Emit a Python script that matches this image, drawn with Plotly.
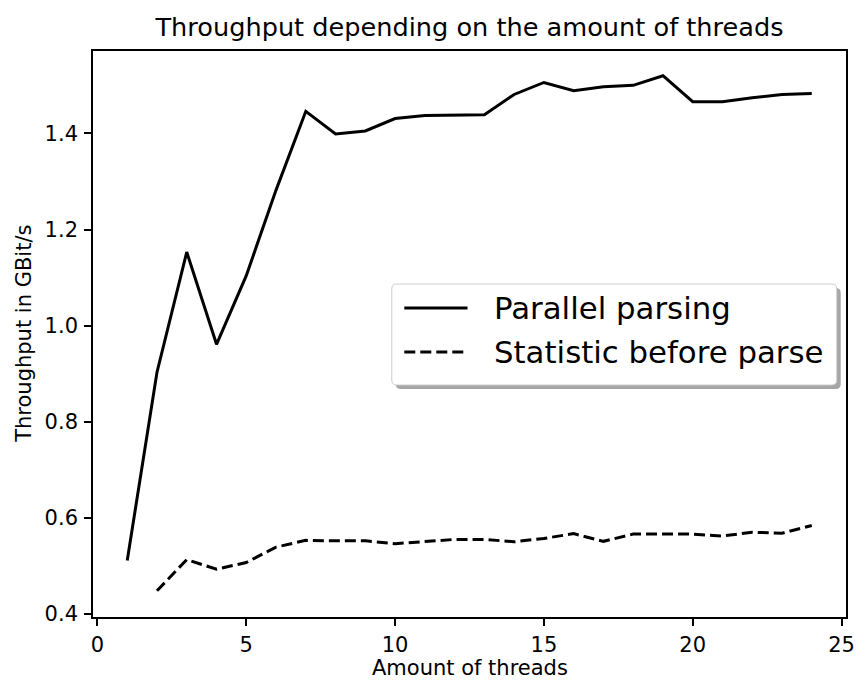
import plotly.graph_objects as go

# ---- data ----
threads_parallel = list(range(1, 25))
parallel_parsing = [0.511, 0.903, 1.153, 0.961, 1.104, 1.282, 1.446, 1.399, 1.405, 1.431,
                    1.437, 1.438, 1.439, 1.481, 1.506, 1.489, 1.497, 1.500, 1.520, 1.466,
                    1.466, 1.474, 1.481, 1.483]
threads_stat = list(range(2, 25))
statistic_before_parse = [0.448, 0.513, 0.493, 0.507, 0.539, 0.553, 0.552, 0.552, 0.546,
                          0.551, 0.555, 0.555, 0.550, 0.557, 0.567, 0.551, 0.566, 0.566,
                          0.566, 0.562, 0.570, 0.568, 0.584]
series_names = ["Parallel parsing", "Statistic before parse"]
x_ticks = [0, 5, 10, 15, 20, 25]
y_ticks = [0.4, 0.6, 0.8, 1.0, 1.2, 1.4]
title_text = "Throughput depending on the amount of threads"
x_title = "Amount of threads"
y_title = "Throughput in GBit/s"

W, H = 864, 682
ML, MR, MT, MB = 93, 9, 51, 65
PW, PH = W - ML - MR, H - MT - MB
FONT = "DejaVu Sans"
TICK_FS, LABEL_FS, TITLE_FS, LEGEND_FS = 21, 21, 25.6, 30.8


def px(x):
    return (x - ML) / PW


def py(y):
    return (H - MB - y) / PH


fig = go.Figure()
fig.add_trace(go.Scatter(x=threads_parallel, y=parallel_parsing, mode="lines",
                         name=series_names[0], line=dict(color="black", width=3)))
fig.add_trace(go.Scatter(x=threads_stat, y=statistic_before_parse, mode="lines",
                         name=series_names[1],
                         line=dict(color="black", width=3, dash="11px,5px")))

axis_common = dict(showgrid=False, zeroline=False, showline=True, linecolor="black",
                   linewidth=1.6, mirror=True, ticks="outside", ticklen=7, tickwidth=1.6,
                   tickcolor="black", tickfont=dict(family=FONT, size=TICK_FS, color="black"))

fig.update_xaxes(range=[-0.15, 25.15], tickvals=x_ticks,
                 ticktext=[str(v) for v in x_ticks], ticklabelstandoff=1, **axis_common)
fig.update_yaxes(range=[0.3935, 1.5715], tickvals=y_ticks,
                 ticktext=[f"{v:.1f}" for v in y_ticks], ticklabelstandoff=2, **axis_common)

# legend (drawn manually to mimic matplotlib's fancy box with shadow)
bx0, bx1, by0, by1 = 398, 843, 284, 385
cx, cy = (bx0 + bx1) / 2, (by0 + by1) / 2
hw, hh, r = (bx1 - bx0) / 2, (by1 - by0) / 2, 5


def rounded(hw, hh, r):
    return (f"M{-hw + r},{-hh} L{hw - r},{-hh} Q{hw},{-hh} {hw},{-hh + r} "
            f"L{hw},{hh - r} Q{hw},{hh} {hw - r},{hh} L{-hw + r},{hh} "
            f"Q{-hw},{hh} {-hw},{hh - r} L{-hw},{-hh + r} Q{-hw},{-hh} {-hw + r},{-hh} Z")


shapes = [
    dict(type="path", xref="paper", yref="paper", xsizemode="pixel", ysizemode="pixel",
         xanchor=px(cx + 4), yanchor=py(cy + 4), path=rounded(hw, hh, r),
         fillcolor="rgba(0,0,0,0.35)", line=dict(width=0), layer="above"),
    dict(type="path", xref="paper", yref="paper", xsizemode="pixel", ysizemode="pixel",
         xanchor=px(cx), yanchor=py(cy), path=rounded(hw, hh, r),
         fillcolor="white", line=dict(color="#cccccc", width=1), layer="above"),
    dict(type="line", xref="paper", yref="paper", x0=px(408), x1=px(472), y0=py(308), y1=py(308),
         line=dict(color="black", width=3), layer="above"),
    dict(type="line", xref="paper", yref="paper", x0=px(408), x1=px(472), y0=py(352), y1=py(352),
         line=dict(color="black", width=3, dash="11px,5px"), layer="above"),
]

annotations = [
    dict(text=series_names[0], x=px(497), y=py(308), xref="paper", yref="paper",
         xanchor="left", yanchor="middle", showarrow=False,
         font=dict(family=FONT, size=LEGEND_FS, color="black")),
    dict(text=series_names[1], x=px(497), y=py(352), xref="paper", yref="paper",
         xanchor="left", yanchor="middle", showarrow=False,
         font=dict(family=FONT, size=LEGEND_FS, color="black")),
    dict(text=x_title, x=0.5, y=py(668), xref="paper", yref="paper",
         xanchor="center", yanchor="middle", showarrow=False,
         font=dict(family=FONT, size=LABEL_FS, color="black")),
    dict(text=y_title, x=px(23), y=0.5, xref="paper", yref="paper", textangle=-90,
         xanchor="center", yanchor="middle", showarrow=False,
         font=dict(family=FONT, size=LABEL_FS, color="black")),
]

fig.update_layout(
    width=W, height=H,
    margin=dict(l=ML, r=MR, t=MT, b=MB),
    paper_bgcolor="white", plot_bgcolor="white",
    showlegend=False,
    title=dict(text=title_text, x=px((ML + W - MR) / 2), xanchor="center",
               y=1 - 27 / H, yanchor="middle", yref="container", xref="paper",
               font=dict(family=FONT, size=TITLE_FS, color="black")),
    shapes=shapes, annotations=annotations,
)

fig.write_html("out.html")
